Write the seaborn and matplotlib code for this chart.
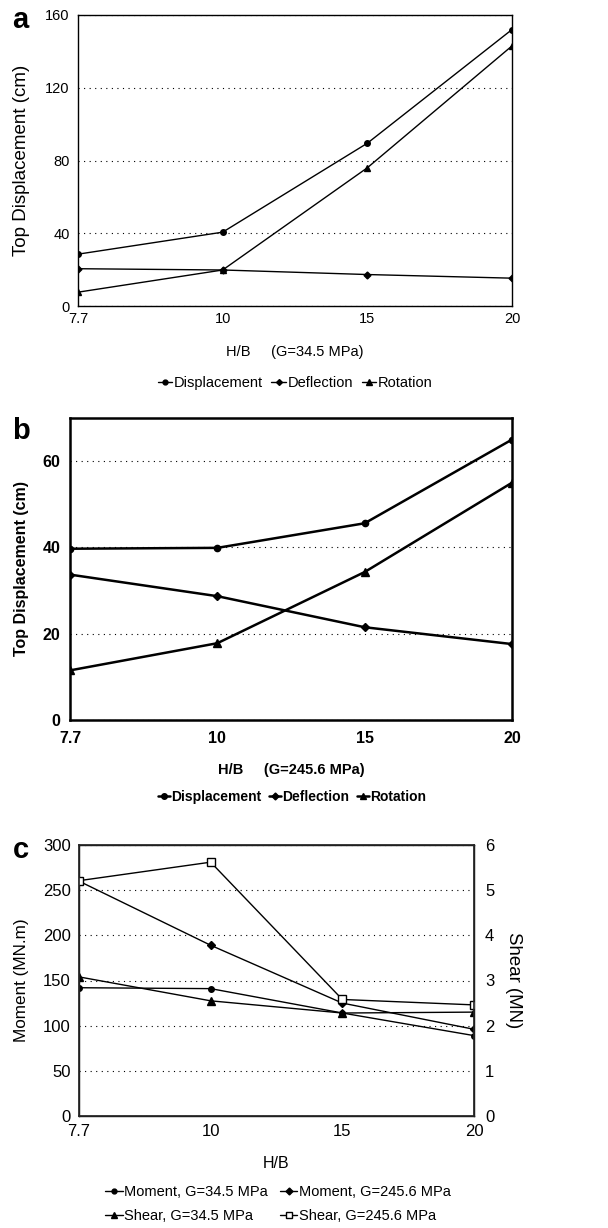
import numpy as np
import pandas as pd
import seaborn as sns
import matplotlib.pyplot as plt
from matplotlib.lines import Line2D

sns.set_theme(style='white')
plt.rcParams['font.family'] = ['Liberation Sans', 'DejaVu Sans']
plt.rcParams['text.color'] = 'black'
plt.rcParams['axes.labelcolor'] = 'black'

# H/B ratios (categorical positions on the x axis)
hb = ['7.7', '10', '15', '20']

# panel a, G=34.5 MPa, top displacement in cm
a_displacement = [28.5, 40.6, 89.5, 152.0]
a_deflection = [20.5, 19.8, 17.3, 15.3]
a_rotation = [7.6, 19.8, 76.0, 143.0]

# panel b, G=245.6 MPa
b_displacement = [39.7, 39.9, 45.6, 65.0]
b_deflection = [33.7, 28.7, 21.5, 17.6]
b_rotation = [11.5, 17.8, 34.3, 55.0]

# panel c, moment (MN.m) and shear (MN)
moment_345 = [142, 141, 114, 89]
moment_2456 = [260, 189, 125, 96]
shear_345 = [3.08, 2.55, 2.28, 2.30]
shear_2456 = [5.21, 5.62, 2.58, 2.46]

W, H = 608, 1228
fig = plt.figure(figsize=(W / 100, H / 100), dpi=100)


def box(l, t, r, b):
    return [l / W, 1 - b / H, (r - l) / W, (b - t) / H]


def style_axes(ax, ymax, yticks, size, xpad, ypad, bold=False, lw=1.0):
    ax.set_xlim(0, 3)
    ax.set_ylim(0, ymax)
    ax.set_yticks(yticks)
    for s in ax.spines.values():
        s.set_visible(True)
        s.set_color('black')
        s.set_linewidth(lw)
    ax.grid(axis='y', linestyle=(0, (1, 4)), color='black', linewidth=0.8)
    ax.grid(axis='x', visible=False)
    ax.tick_params(length=0, labelsize=size, colors='black')
    ax.tick_params(axis='x', pad=xpad)
    ax.tick_params(axis='y', pad=ypad)
    if bold:
        for t in ax.get_xticklabels() + ax.get_yticklabels():
            t.set_fontweight('bold')


def draw(ax, y, marker, ms, lw, fill='black'):
    sns.lineplot(x=hb, y=y, ax=ax, color='black', linewidth=lw, marker=marker,
                 markersize=ms, markerfacecolor=fill, markeredgecolor='black',
                 markeredgewidth=1.0, sort=False)


def handle(marker, ms, lw, fill='black'):
    return Line2D([], [], color='black', lw=lw, marker=marker, markersize=ms,
                  markerfacecolor=fill, markeredgecolor='black')


# ---- panel a
ax1 = fig.add_axes(box(78, 15, 512, 306))
draw(ax1, a_displacement, 'o', 4, 1.0)
draw(ax1, a_deflection, 'D', 3.5, 1.0)
draw(ax1, a_rotation, '^', 5, 1.0)
style_axes(ax1, 160, [0, 40, 80, 120, 160], 10.5, xpad=4, ypad=6)
ax1.set_xlabel('H/B     (G=34.5 MPa)', fontsize=10.5, labelpad=14)
ax1.set_ylabel('Top Displacement (cm)', fontsize=13.5, labelpad=11)
ax1.legend([handle('o', 3.5, 1.0), handle('D', 3, 1.0), handle('^', 4.5, 1.0)],
           ['Displacement', 'Deflection', 'Rotation'], loc='center',
           bbox_to_anchor=(295 / W, 1 - 383 / H), bbox_transform=fig.transFigure,
           ncol=3, frameon=False, fontsize=10.5, handlelength=1.0,
           handletextpad=0.1, columnspacing=0.6)
fig.text(20 / W, 1 - 20 / H, 'a', fontsize=21, fontweight='bold', ha='center', va='center')

# ---- panel b
ax2 = fig.add_axes(box(70, 418, 512, 720))
draw(ax2, b_displacement, 'o', 4.5, 1.8)
draw(ax2, b_deflection, 'D', 4, 1.8)
draw(ax2, b_rotation, '^', 6, 1.8)
style_axes(ax2, 70, [0, 20, 40, 60], 11.5, xpad=8, ypad=7, bold=True, lw=1.8)
ax2.set_xlabel('H/B     (G=245.6 MPa)', fontsize=10.5, fontweight='bold', labelpad=12)
ax2.set_ylabel('Top Displacement (cm)', fontsize=11.5, fontweight='bold', labelpad=10)
ax2.legend([handle('o', 4, 1.8), handle('D', 3.5, 1.8), handle('^', 5, 1.8)],
           ['Displacement', 'Deflection', 'Rotation'], loc='center',
           bbox_to_anchor=(292 / W, 1 - 797 / H), bbox_transform=fig.transFigure,
           ncol=3, frameon=False, prop={'size': 10, 'weight': 'bold'},
           handlelength=0.9, handletextpad=0.1, columnspacing=0.5)
fig.text(21 / W, 1 - 431 / H, 'b', fontsize=21, fontweight='bold', ha='center', va='center')

# ---- panel c
ax3 = fig.add_axes(box(79, 845, 474, 1116))
draw(ax3, moment_345, 'o', 4, 1.0)
draw(ax3, moment_2456, 'D', 4, 1.0)
style_axes(ax3, 300, [0, 50, 100, 150, 200, 250, 300], 12, xpad=6, ypad=6)
ax4 = ax3.twinx()
draw(ax4, shear_345, '^', 5.5, 1.0)
draw(ax4, shear_2456, 's', 5.5, 1.0, fill='white')
ax4.set_ylim(0, 6)
ax4.set_yticks([0, 1, 2, 3, 4, 5, 6])
ax4.tick_params(length=0, pad=8, labelsize=12, colors='black')
ax4.grid(False)
ax3.set_xlabel('H/B', fontsize=11.5, labelpad=12)
ax3.set_ylabel('Moment (MN.m)', fontsize=12.3, labelpad=10)
ax4.set_ylabel('Shear (MN)', fontsize=13.4, rotation=270, labelpad=20)
ax3.legend([handle('o', 3.5, 1.0), handle('^', 4.5, 1.0),
            handle('D', 3.5, 1.0), handle('s', 4.5, 1.0, fill='white')],
           ['Moment, G=34.5 MPa', 'Shear, G=34.5 MPa',
            'Moment, G=245.6 MPa', 'Shear, G=245.6 MPa'], loc='center',
           bbox_to_anchor=(278 / W, 1 - 1204 / H), bbox_transform=fig.transFigure,
           ncol=2, frameon=False, fontsize=10.5, handlelength=1.2,
           handletextpad=0.1, columnspacing=0.8, labelspacing=0.7)
fig.text(21 / W, 1 - 850 / H, 'c', fontsize=21, fontweight='bold', ha='center', va='center')

fig.savefig('out.png', dpi=100)
